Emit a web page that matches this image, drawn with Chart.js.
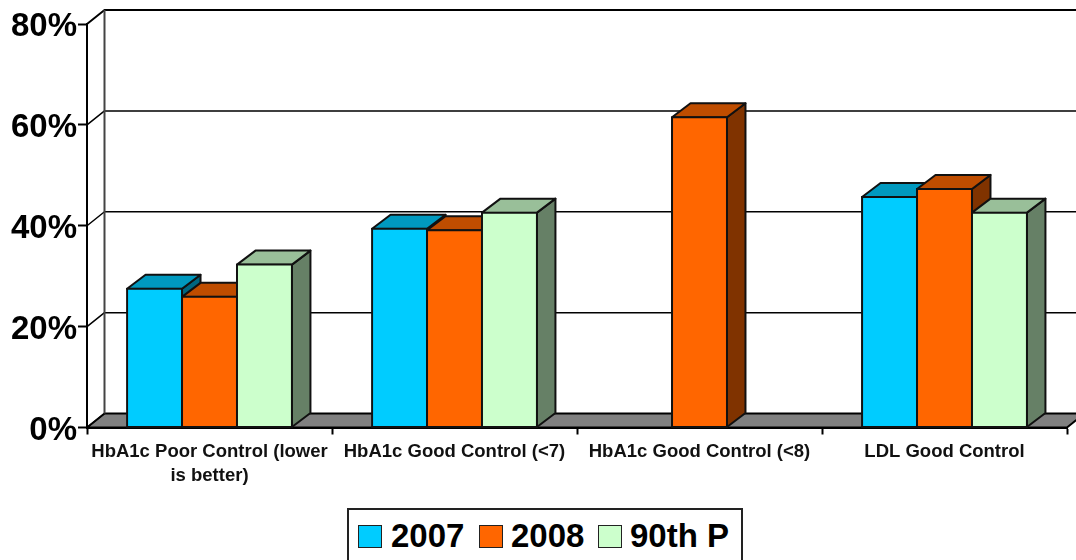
<!DOCTYPE html>
<html>
<head>
<meta charset="utf-8">
<title>HbA1c and LDL control</title>
<script src="https://cdn.jsdelivr.net/npm/chart.js@4/dist/chart.umd.min.js"></script>
<style>
    html, body { margin: 0; padding: 0; background: #fff; }
    #wrap { position: relative; width: 1076px; height: 560px; overflow: hidden; }
    #chart { position: absolute; left: 0; top: 0; }
    #legend {
        position: absolute; left: 347px; top: 508px; width: 392px; height: 60px;
        border: 2px solid #222; background: #fff;
        font: bold 33px "Liberation Sans", Arial, sans-serif; color: #000;
    }
    #legend .swatch {
        position: absolute; top: 15px; width: 22px; height: 21px; border: 1.5px solid #222;
    }
    #legend .name { position: absolute; top: 7px; line-height: 38px; white-space: pre; }
</style>
</head>
<body>
<div id="wrap">
    <canvas id="chart" width="1076" height="560"></canvas>
    <div id="legend"></div>
</div>
<script>
const categories = [
    ['HbA1c Poor Control (lower', 'is better)'],
    'HbA1c Good Control (<7)',
    'HbA1c Good Control (<8)',
    'LDL Good Control'
];
const values2007 = [27.5, 39.4, null, 45.7];
const values2008 = [25.9, 39.1, 61.5, 47.3];
const values90th = [32.3, 42.6, null, 42.6];
const seriesNames = ['2007', '2008', '90th P'];
const seriesColors = ['#00CCFF', '#FF6600', '#CCFFCC'];
const topColors = ['#0099BF', '#BF4D00', '#99BF99'];
const sideColors = ['#006680', '#803300', '#668066'];
const yTicks = [0, 20, 40, 60, 80];

// how far the back wall sits from the front plane
const depthX = 17.5;
const depthY = 14;
const barDepthX = 18.5;

function face(ctx, points, fill) {
    ctx.beginPath();
    ctx.moveTo(points[0][0], points[0][1]);
    points.slice(1).forEach(p => ctx.lineTo(p[0], p[1]));
    ctx.closePath();
    ctx.fillStyle = fill;
    ctx.fill();
    ctx.stroke();
}

// walls and floor, then each series in order with its top and side faces
const depthPlugin = {
    id: 'depth',
    beforeDatasetsDraw(chart) {
        const ctx = chart.ctx;
        const area = chart.chartArea;
        const y = chart.scales.y;
        const zero = y.getPixelForValue(0);

        ctx.save();
        ctx.strokeStyle = '#000';
        ctx.lineJoin = 'round';

        ctx.lineWidth = 2;
        face(ctx, [
            [area.left, zero],
            [area.left + depthX, zero - depthY],
            [area.right + depthX, zero - depthY],
            [area.right, zero]
        ], '#808080');

        yTicks.forEach(tick => {
            const py = y.getPixelForValue(tick);
            ctx.lineWidth = tick === 80 ? 2 : 1.5;
            ctx.beginPath();
            ctx.moveTo(area.left, py);
            ctx.lineTo(area.left + depthX, py - depthY);
            if (tick > 0) ctx.lineTo(area.right + depthX, py - depthY);
            ctx.stroke();
        });

        ctx.strokeStyle = '#444';
        ctx.lineWidth = 2;
        ctx.beginPath();
        ctx.moveTo(area.left + depthX, y.getPixelForValue(80) - depthY);
        ctx.lineTo(area.left + depthX, zero - depthY);
        ctx.stroke();

        ctx.strokeStyle = '#111';
        ctx.lineWidth = 2;
        chart.data.datasets.forEach((ds, i) => {
            const meta = chart.getDatasetMeta(i);
            meta.data.forEach((bar, j) => {
                if (ds.data[j] === null) return;
                const left = bar.x - bar.width / 2;
                const right = bar.x + bar.width / 2;
                face(ctx, [
                    [right, bar.y],
                    [right + barDepthX, bar.y - depthY],
                    [right + barDepthX, bar.base - depthY],
                    [right, bar.base]
                ], sideColors[i]);
                face(ctx, [
                    [left, bar.y],
                    [left + barDepthX, bar.y - depthY],
                    [right + barDepthX, bar.y - depthY],
                    [right, bar.y]
                ], topColors[i]);
            });
            meta.controller.draw();
        });
        ctx.restore();
        return false;
    }
};

const seriesValues = [values2007, values2008, values90th];

new Chart(document.getElementById('chart'), {
    type: 'bar',
    data: {
        labels: categories,
        datasets: seriesNames.map((name, i) => ({
            label: name,
            data: seriesValues[i],
            backgroundColor: seriesColors[i],
            borderColor: '#111',
            borderWidth: 2,
            borderSkipped: false,
            inflateAmount: 1
        }))
    },
    options: {
        responsive: false,
        animation: false,
        layout: { padding: { top: 24, right: 9, left: 0, bottom: 0 } },
        categoryPercentage: 0.673,
        barPercentage: 1,
        plugins: { legend: { display: false }, tooltip: { enabled: false } },
        scales: {
            x: {
                afterFit(scale) { scale.height = 132.5; },
                border: { color: '#000', width: 2 },
                grid: { drawOnChartArea: false, tickLength: 7, tickColor: '#000', tickWidth: 2 },
                ticks: {
                    color: '#111',
                    padding: 5,
                    maxRotation: 0,
                    autoSkip: false,
                    font: { family: '"Liberation Sans", Arial, sans-serif', weight: 'bold', size: 18.5, lineHeight: '24px' }
                }
            },
            y: {
                min: 0,
                max: 80,
                afterFit(scale) { scale.width = 87; },
                border: { color: '#000', width: 2 },
                grid: { drawOnChartArea: false, tickLength: 9, tickColor: '#000', tickWidth: 2 },
                ticks: {
                    stepSize: 20,
                    color: '#000',
                    padding: 1,
                    labelOffset: 3,
                    callback: v => v + '%',
                    font: { family: '"Liberation Sans", Arial, sans-serif', weight: 'bold', size: 33 }
                }
            }
        }
    },
    plugins: [depthPlugin]
});

// series key below the plot
const legendBox = document.getElementById('legend');
const swatchLeft = [9, 130, 249];
const nameLeft = [42, 162, 281];
seriesNames.forEach((name, i) => {
    const swatch = document.createElement('div');
    swatch.className = 'swatch';
    swatch.style.left = swatchLeft[i] + 'px';
    swatch.style.background = seriesColors[i];
    legendBox.appendChild(swatch);

    const label = document.createElement('div');
    label.className = 'name';
    label.style.left = nameLeft[i] + 'px';
    label.textContent = name;
    legendBox.appendChild(label);
});
</script>
</body>
</html>
